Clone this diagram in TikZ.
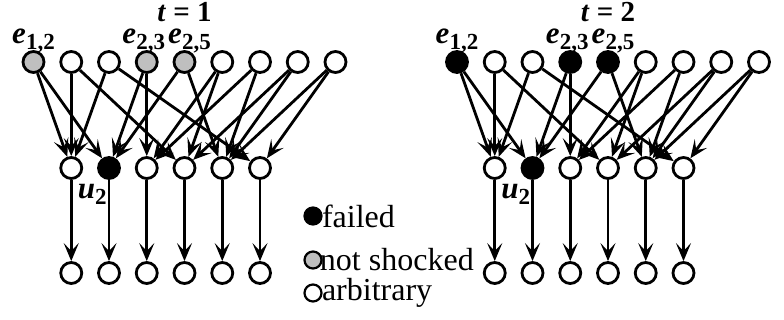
\documentclass[tikz,border=0pt]{standalone}
\usepackage{fontspec}
\setmainfont{Liberation Serif}
\usetikzlibrary{arrows.meta}

\tikzset{
  vtx/.style={circle, draw, line width=1.4pt, minimum size=10.5pt, inner sep=0pt},
  arc/.style={line width=1.4pt, -{Stealth[length=9pt,width=7.5pt,inset=4pt]}},
  lab/.style={inner sep=0pt, font=\fontsize{15.5}{15.5}\selectfont},
  ttl/.style={inner sep=0pt, font=\fontsize{14.5}{14.5}\selectfont},
  note/.style={inner sep=0pt, font=\fontsize{16}{16}\selectfont},
  key/.style={circle, draw, line width=1.1pt, minimum size=8.5pt, inner sep=0pt}
}
\newcommand{\elab}[2]{\textbf{\textit{#1}\raisebox{-0.4ex}{\fontsize{11.5}{11.5}\selectfont #2}}}

\begin{document}
\begin{tikzpicture}[x=0.5pt, y=-0.5pt]
\useasboundingbox (0,0) rectangle (784,320);

% the two rounds
\foreach \g/\dx/\fc/\tt in {a/0/black!25/1, b/423.5/black/2} {
  \foreach \i/\f in {0/\fc, 1/white, 2/white, 3/\fc, 4/\fc, 5/white, 6/white, 7/white, 8/white}
    \node[vtx, fill=\f] (\g t\i) at (33.5+\dx+37.75*\i, 62) {};
  \foreach \j/\f in {1/white, 2/black, 3/white, 4/white, 5/white, 6/white} {
    \node[vtx, fill=\f] (\g m\j) at (33.5+\dx+37.75*\j, 168) {};
    \node[vtx, fill=white] (\g b\j) at (33.5+\dx+37.75*\j, 273) {};
    \draw[arc] (\g m\j) -- (\g b\j);
  }
  \foreach \s/\d in {0/1, 0/2, 1/1, 1/4, 2/1, 2/6, 3/2, 3/3, 4/2, 4/5,
                     5/3, 5/4, 6/3, 6/5, 7/4, 7/5, 8/5, 8/6}
    \draw[arc] (\g t\s) -- (\g m\d);

  \node[ttl, anchor=base] (\g time) at (184.5+\dx, 22) {\textbf{\textit{t} = \tt}};
  \node[lab, anchor=base] (\g e12) at ([yshift=3.25pt]\g t0.north) {\elab{e}{1,2}};
  \node[lab, anchor=base] (\g e23) at ([xshift=-1.5pt, yshift=3.25pt]\g t3.north) {\elab{e}{2,3}};
  \node[lab, anchor=base] (\g e25) at ([xshift=2.5pt, yshift=3.25pt]\g t4.north) {\elab{e}{2,5}};
  \node[lab, anchor=north east] (\g u2) at ([xshift=-1pt, yshift=-2pt]\g m2.south) {\elab{u}{2}};
}

% legend
\node[key, fill=black] (kfail) at (313, 216) {};
\node[key, fill=black!25] (kcalm) at (313, 260) {};
\node[key, fill=white] (kany) at (313, 293) {};
\node[note, anchor=west] (tfail) at ([xshift=-0.5pt]kfail.east) {failed};
\node[note, anchor=west] (tcalm) at ([xshift=-1.5pt]kcalm.east) {not shocked};
\node[note, anchor=west] (tany) at ([xshift=-0.5pt]kany.east) {arbitrary};
\end{tikzpicture}
\end{document}
